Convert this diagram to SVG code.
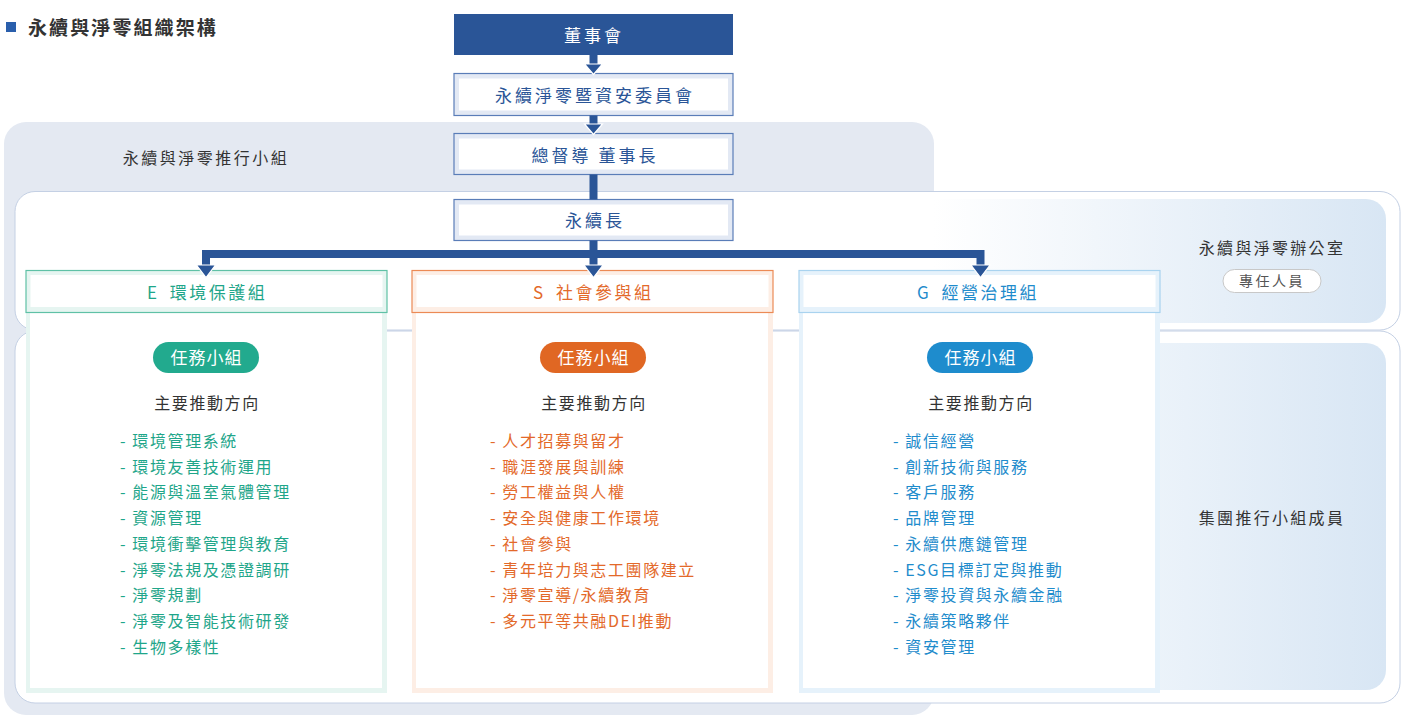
<svg xmlns="http://www.w3.org/2000/svg" width="1401" height="721" viewBox="0 0 1401 721">
<defs>
<linearGradient id="gUp" x1="0" y1="0" x2="1" y2="0">
<stop offset="0" stop-color="#ffffff"/>
<stop offset="1" stop-color="#d8e6f4"/>
</linearGradient>
<linearGradient id="gLow" x1="0" y1="0" x2="1" y2="0">
<stop offset="0" stop-color="#ecf3fa"/>
<stop offset="1" stop-color="#d8e6f4"/>
</linearGradient>
<style>
text{font-family:'Noto Sans CJK TC','Noto Sans CJK SC',sans-serif;dominant-baseline:central;transform:translateY(-1px)}
.c{text-anchor:middle}
.dk{fill:#333333}
.nb{fill:#2a5597;font-size:17px;letter-spacing:3px}
.nodebox{fill:#e3e9f4;stroke:#5a7db8;stroke-width:1.2}
.inner{fill:#ffffff}
.hd{font-size:17px;letter-spacing:2.5px}
.li{font-size:16px;letter-spacing:1.6px}
.sub{font-size:16px;letter-spacing:1.6px;fill:#333333}
.pill{font-size:17px;letter-spacing:1px;fill:#ffffff}
.conn{stroke:#2a5597;stroke-width:8;fill:none}
.ah{fill:#2a5597;stroke:#ffffff;stroke-width:1.2}
.e{fill:#1fa68a}.s{fill:#e3692a}.g{fill:#1f8ccc}
</style>
</defs>

<!-- title -->
<g id="title">
<rect x="6" y="22" width="10" height="10" fill="#2a5fac"/>
<text x="28" y="27" class="dk" style="font-size:19px;font-weight:700;letter-spacing:2.1px">永續與淨零組織架構</text>
</g>

<!-- background panels -->
<g id="panel-promotion">
<rect x="4" y="122" width="930" height="593" rx="22" fill="#e4e9f2"/>
<text x="206" y="158" class="c dk" style="font-size:16px;letter-spacing:2.5px">永續與淨零推行小組</text>
</g>
<g id="panel-office">
<rect x="15" y="191.5" width="1385" height="138.5" rx="20" fill="#ffffff" stroke="#c4d0e4" stroke-width="1"/>
<path d="M933,199 H1366 A20,20 0 0 1 1386,219 V303 A20,20 0 0 1 1366,323 H933 Z" fill="url(#gUp)"/>
<text x="1272" y="248" class="c dk" style="font-size:16px;letter-spacing:2.3px">永續與淨零辦公室</text>
<rect x="1223" y="269.5" width="98" height="23" rx="11.5" fill="#ffffff" stroke="#c8c8c8" stroke-width="1"/>
<text x="1272" y="281" class="c" style="font-size:14px;letter-spacing:2.5px;fill:#555555">專任人員</text>
</g>
<g id="panel-members">
<rect x="15" y="331" width="1385" height="372" rx="20" fill="#ffffff" stroke="#c4d0e4" stroke-width="1"/>
<path d="M1150,343 H1366 A20,20 0 0 1 1386,363 V670 A20,20 0 0 1 1366,690 H1150 Z" fill="url(#gLow)"/>
<text x="1272" y="518" class="c dk" style="font-size:16px;letter-spacing:2.3px">集團推行小組成員</text>
</g>

<!-- top nodes -->
<g id="node-board">
<rect x="454" y="14" width="279" height="41" fill="#2a5597"/>
<text x="594" y="35" class="c" style="font-size:17px;letter-spacing:3px;fill:#ffffff">董事會</text>
</g>
<g id="node-committee">
<rect x="454" y="73.5" width="279" height="42" class="nodebox"/>
<rect x="459" y="78.5" width="269" height="32" class="inner"/>
<text x="595" y="95" class="c nb">永續淨零暨資安委員會</text>
</g>
<g id="node-chair">
<rect x="454" y="133.5" width="279" height="41" class="nodebox"/>
<rect x="459" y="138.5" width="269" height="31" class="inner"/>
<text x="595" y="155" class="c nb">總督導 董事長</text>
</g>
<g id="node-cso">
<rect x="454" y="199.5" width="279" height="41" class="nodebox"/>
<rect x="459" y="204.5" width="269" height="31" class="inner"/>
<text x="595" y="220" class="c nb">永續長</text>
</g>

<!-- E group -->
<g id="group-e">
<rect x="26" y="312" width="361" height="381" fill="#e6f5f1"/>
<rect x="30" y="312" width="352" height="376" fill="#ffffff"/>
<rect x="26" y="270.5" width="361" height="42" fill="#e6f5f1" stroke="#5fc1a6" stroke-width="1.2"/>
<rect x="30.5" y="275" width="352" height="32" fill="#ffffff"/>
<text x="147" y="292" class="hd e">E<tspan dx="4"> 環境保護組</tspan></text>
<rect x="153" y="342" width="106" height="31" rx="15.5" fill="#22aa8e"/>
<text x="206.5" y="357" class="c pill">任務小組</text>
<text x="207" y="403" class="c sub">主要推動方向</text>
<g class="li e">
<text x="120" y="441">- 環境管理系統</text>
<text x="120" y="467">- 環境友善技術運用</text>
<text x="120" y="492">- 能源與溫室氣體管理</text>
<text x="120" y="518">- 資源管理</text>
<text x="120" y="544">- 環境衝擊管理與教育</text>
<text x="120" y="570">- 淨零法規及憑證調研</text>
<text x="120" y="595">- 淨零規劃</text>
<text x="120" y="621">- 淨零及智能技術研發</text>
<text x="120" y="647">- 生物多樣性</text>
</g>
</g>

<!-- S group -->
<g id="group-s">
<rect x="412" y="312" width="361" height="381" fill="#fdeee5"/>
<rect x="416" y="312" width="352" height="376" fill="#ffffff"/>
<rect x="412" y="270.5" width="361" height="42" fill="#fdeee5" stroke="#ec8a55" stroke-width="1.2"/>
<rect x="416.5" y="275" width="352" height="32" fill="#ffffff"/>
<text x="533" y="292" class="hd s">S<tspan dx="4"> 社會參與組</tspan></text>
<rect x="540" y="342" width="106" height="31" rx="15.5" fill="#e06723"/>
<text x="593.5" y="357" class="c pill">任務小組</text>
<text x="594" y="403" class="c sub">主要推動方向</text>
<g class="li s">
<text x="490" y="441">- 人才招募與留才</text>
<text x="490" y="467">- 職涯發展與訓練</text>
<text x="490" y="492">- 勞工權益與人權</text>
<text x="490" y="518">- 安全與健康工作環境</text>
<text x="490" y="544">- 社會參與</text>
<text x="490" y="570">- 青年培力與志工團隊建立</text>
<text x="490" y="595">- 淨零宣導/永續教育</text>
<text x="490" y="621">- 多元平等共融DEI推動</text>
</g>
</g>

<!-- G group -->
<g id="group-g">
<rect x="799" y="312" width="361" height="381" fill="#e6f2fb"/>
<rect x="803" y="312" width="352" height="376" fill="#ffffff"/>
<rect x="799" y="270.5" width="361" height="42" fill="#e6f2fb" stroke="#a9d3ef" stroke-width="1.2"/>
<rect x="803.5" y="275" width="352" height="32" fill="#ffffff"/>
<text x="917" y="292" class="hd g">G<tspan dx="4"> 經營治理組</tspan></text>
<rect x="927" y="342" width="106" height="31" rx="15.5" fill="#1e8ccd"/>
<text x="980.5" y="357" class="c pill">任務小組</text>
<text x="981" y="403" class="c sub">主要推動方向</text>
<g class="li g">
<text x="893" y="441">- 誠信經營</text>
<text x="893" y="467">- 創新技術與服務</text>
<text x="893" y="492">- 客戶服務</text>
<text x="893" y="518">- 品牌管理</text>
<text x="893" y="544">- 永續供應鏈管理</text>
<text x="893" y="570">- ESG目標訂定與推動</text>
<text x="893" y="595">- 淨零投資與永續金融</text>
<text x="893" y="621">- 永續策略夥伴</text>
<text x="893" y="647">- 資安管理</text>
</g>
</g>

<!-- connectors -->
<g id="connectors">
<path class="conn" d="M593.5,55 V65"/>
<polygon class="ah" points="584.5,64 602.5,64 593.5,74.5"/>
<path class="conn" d="M593.5,115.5 V125"/>
<polygon class="ah" points="584.5,124 602.5,124 593.5,134.5"/>
<path class="conn" d="M593.5,174.5 V199.5"/>
<path class="conn" d="M593.5,240.5 V266"/>
<path class="conn" d="M206,266 V254 H980.5 V266" stroke-linejoin="miter"/>
<polygon class="ah" points="196.5,265 215.5,265 206,277.5"/>
<polygon class="ah" points="584,265 603,265 593.5,277.5"/>
<polygon class="ah" points="971,265 990,265 980.5,277.5"/>
</g>
</svg>
